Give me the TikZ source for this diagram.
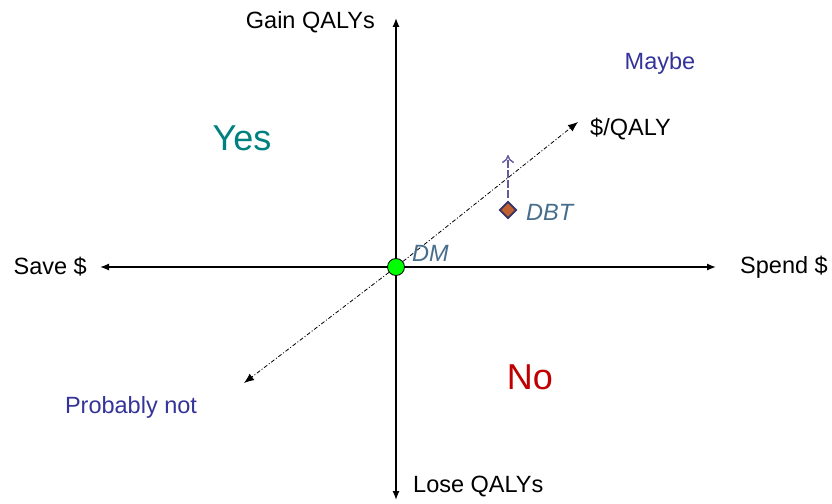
\documentclass[tikz,border=0pt]{standalone}
\usepackage{fontspec}
\setmainfont{Liberation Sans}
\usetikzlibrary{arrows,arrows.meta,shapes,positioning,calc}

\definecolor{yescol}{RGB}{0,128,128}
\definecolor{nocol}{RGB}{192,0,0}
\definecolor{maybecol}{RGB}{51,51,153}
\definecolor{dbtcol}{RGB}{70,110,140}
\definecolor{movecol}{RGB}{100,90,160}
\definecolor{diafill}{RGB}{192,96,48}
\definecolor{diadraw}{RGB}{50,50,100}

\tikzset{
  lbl/.style={font=\fontsize{23.5}{28}\selectfont,inner sep=0pt},
  big/.style={font=\fontsize{36}{42}\selectfont,inner sep=0pt},
  axis/.style={line width=1.3pt,-{Latex[length=9pt,width=7pt]}},
  ratio/.style={line width=0.8pt,dash pattern=on 4pt off 2pt on 1pt off 2pt,
    -{Latex[length=10pt,width=8pt]}}
}

\begin{document}
\begin{tikzpicture}[x=1pt,y=-1pt]
\useasboundingbox (0,0) rectangle (832,503);

% origin
\coordinate (origin) at (396,267);
\coordinate (west) at (100,267);
\coordinate (east) at (716,267);
\coordinate (north) at (396,18);
\coordinate (south) at (396,500);
\coordinate (lowend) at (244,383);
\coordinate (highend) at (578,122);

%axes
\draw[axis] (origin) -- (west);
\draw[axis] (origin) -- (east);
\draw[axis] (origin) -- (north);
\draw[axis] (origin) -- (south);

%cost per QALY line
\draw[ratio] (origin) -- (highend);
\draw[ratio] (origin) -- (lowend);

% axis labels
\node[lbl,anchor=east] (save) at (87,267) {Save \$};
\node[lbl,anchor=west] (spend) at (740,267) {Spend \$};
\node[lbl,anchor=east] (gain) at (375,22) {Gain QALYs};
\node[lbl,anchor=west] (lose) at (413,487) {Lose QALYs};
\node[lbl,anchor=west] (perqaly) at (590,129) {\$/QALY};

% quadrants
\node[big,text=yescol] (yes) at (242,138) {Yes};
\node[big,text=nocol] (no) at (530,377) {No};
\node[lbl,text=maybecol] (maybe) at (660,63) {Maybe};
\node[lbl,text=maybecol] (probnot) at (131,407) {Probably not};

% points
\node[circle,draw=black,fill=green,line width=0.8pt,minimum size=17pt,inner sep=0pt]
  (dm) at (origin) {};
\node[lbl,text=dbtcol,anchor=west] (dmlbl) at (412,253) {\itshape DM};
\node[diamond,draw=diadraw,fill=diafill,line width=1.8pt,minimum size=17pt,inner sep=0pt]
  (dbt) at (508,210) {};
\node[lbl,text=dbtcol,anchor=west] (dbtlbl) at (526,212) {\itshape DBT};
\coordinate (dbtup) at (508,155);
\draw[movecol,line width=1.4pt,dash pattern=on 8pt off 2pt,-{To[length=8pt,width=12pt]}]
  (dbt.north) ++(0,-3) -- (dbtup);

\end{tikzpicture}
\end{document}
